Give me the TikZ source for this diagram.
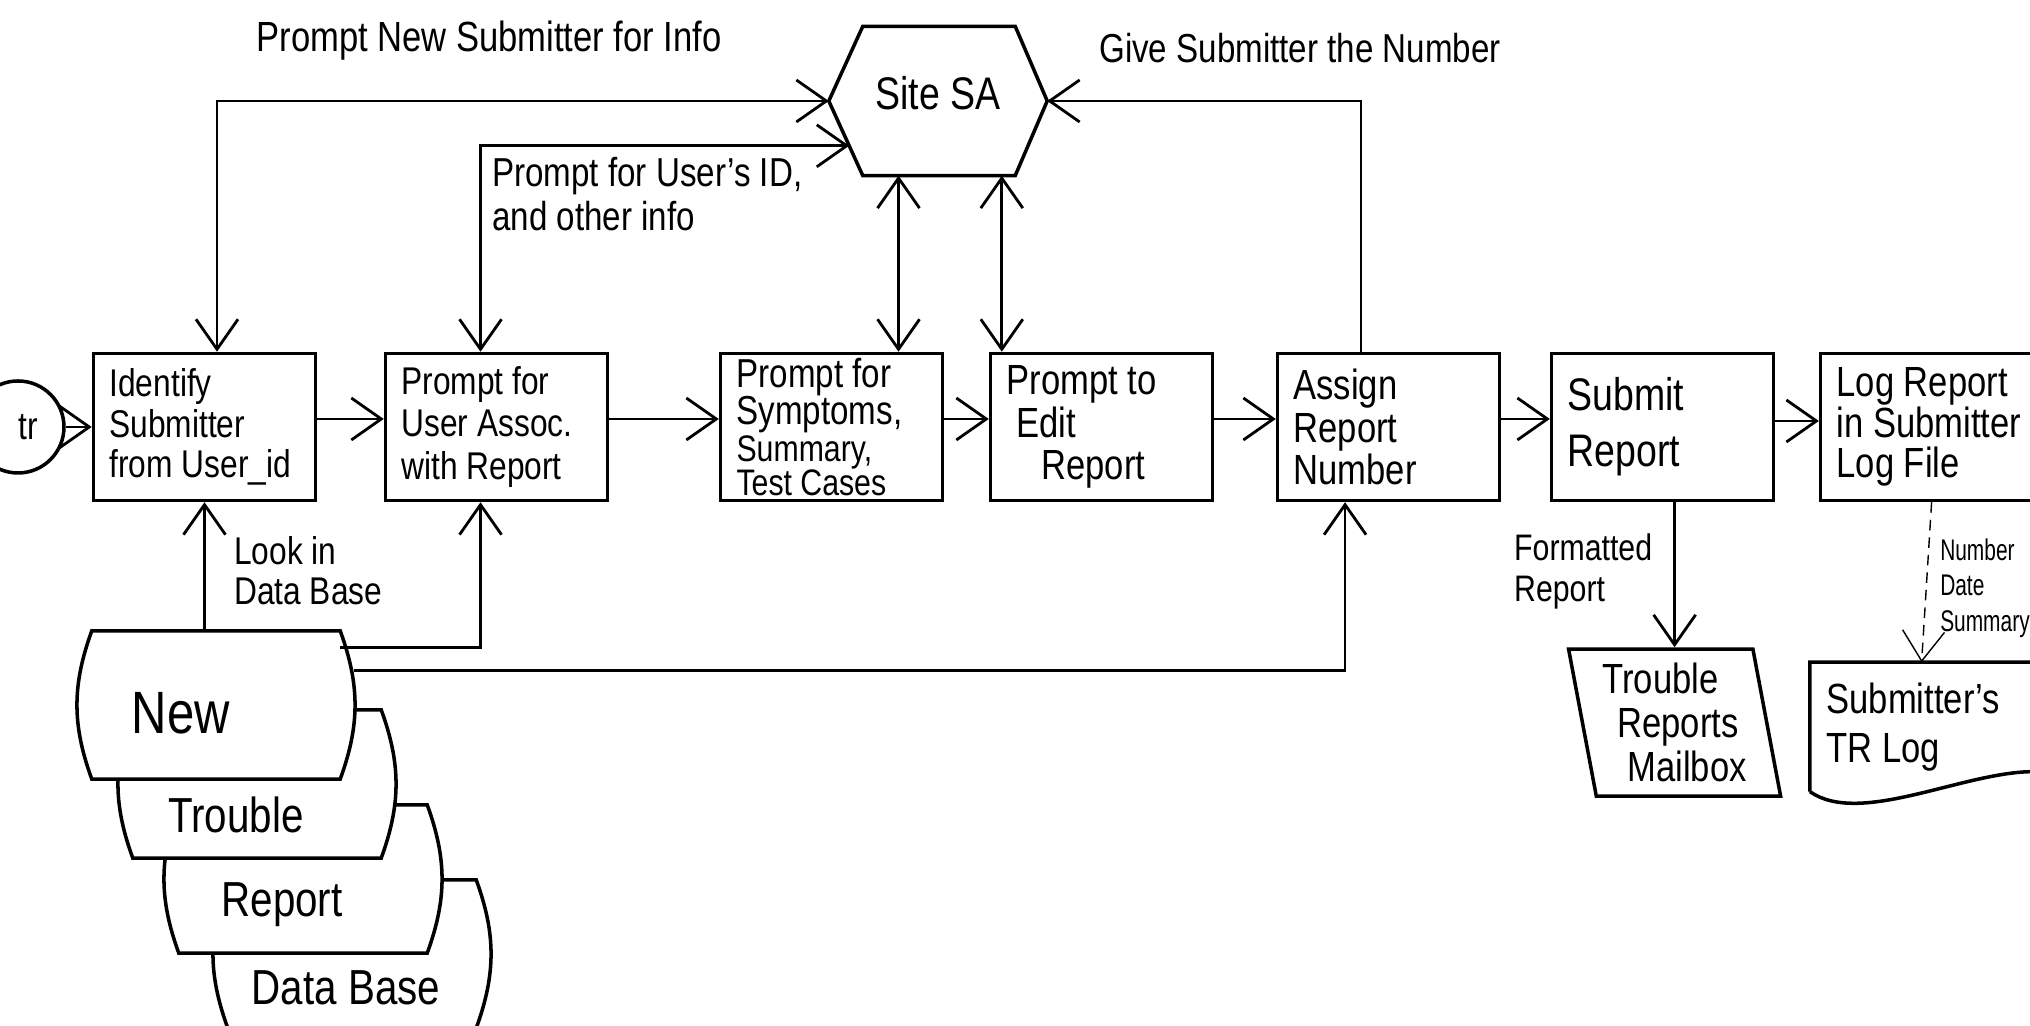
\documentclass[tikz,border=0pt]{standalone}
\usepackage{fontspec}
\setmainfont{Liberation Sans}[FakeStretch=0.82]
\newfontfamily\slimfont{Liberation Sans}[FakeStretch=0.7]
\usetikzlibrary{arrows.meta,positioning,calc,shapes.geometric}

\begin{document}
\begin{tikzpicture}[
  font=\fontsize{11}{11.5}\selectfont,
  >={Straight Barb[length=3mm,width=4.2mm]},
  procbox/.style={draw,line width=1pt,align=flush left,text width=1.9cm,minimum width=2.22cm,minimum height=1.47cm,inner sep=2pt},
  hexa/.style={minimum width=2.17cm,minimum height=1.48cm,text depth=0.16cm,font=\fontsize{13}{15}\selectfont},
  hexline/.style={draw,line width=1pt},
  mailshape/.style={draw,line width=1pt,trapezium,trapezium left angle=102,trapezium right angle=78,trapezium stretches=true,minimum width=2.13cm,minimum height=1.47cm,inner sep=1pt,align=left,font=\fontsize{12}{12.5}\selectfont},
  logdoc/.style={minimum width=2.22cm,minimum height=1.28cm,text width=1.9cm,align=flush left,font=\fontsize{12}{14}\selectfont},
  dbpage/.style={minimum width=2.47cm,minimum height=1.47cm,inner sep=0pt},
  dbedge/.style={draw,line width=1pt,fill=white},
  dbtext/.style={font=\fontsize{14}{14}\selectfont},
  startc/.style={draw,line width=1pt,circle,minimum size=0.92cm,inner sep=0pt},
  lbl/.style={align=left,inner sep=1pt},
  link/.style={->,line width=0.8pt},
  node distance=0.6cm
]
\useasboundingbox (0,0) rectangle (20.30,10.26);
\clip (0,0) rectangle (20.30,10.26);

% main row
\node[procbox] (ident) at (2.045,5.99) {Identify\\Submitter\\from User\_id};
\node[startc,left=0.26cm of ident] (start) {\hspace*{0.2cm}tr};
\node[procbox,right=0.665cm of ident,font=\fontsize{11}{12}\selectfont] (assoc) {Prompt for\\User Assoc.\\with Report};
\node[procbox,right=1.095cm of assoc,inner ysep=0pt,font=\fontsize{11.5}{10.5}\selectfont] (sympt) {Prompt for\\Symptoms,\\{\fontsize{10.5}{9}\selectfont Summary,}\\[-1pt]{\fontsize{10.5}{9}\selectfont Test Cases}};
\node[procbox,right=0.445cm of sympt,font=\fontsize{12}{12}\selectfont] (edit) {Prompt to\\\hspace*{1mm}Edit\\\hspace*{3.5mm}Report};
\node[procbox,right=0.615cm of edit,font=\fontsize{12}{12}\selectfont] (assign) {Assign\\Report\\Number};
\node[procbox,right=0.485cm of assign,font=\fontsize{13}{16}\selectfont] (submit) {Submit\\Report};
\node[procbox,right=0.435cm of submit,font=\fontsize{12}{11.5}\selectfont] (logrep) {Log Report\\in Submitter\\Log File};

% site SA
\node[hexa] (sa) at (9.38,9.25) {Site SA};
\draw[hexline] (sa.west) -- ([xshift=3.4mm]sa.north west) -- ([xshift=-3.2mm]sa.north east) -- (sa.east)
  -- ([xshift=-3.2mm]sa.south east) -- ([xshift=3.4mm]sa.south west) -- cycle;
\coordinate (saedge) at ($(sa.west)!0.6!([xshift=3.4mm]sa.south west)$);

\node[mailshape,below=1.45cm of submit,xshift=1.2mm] (mailbox) {Trouble\\\hspace*{1.5mm}Reports\\\hspace*{2.5mm}Mailbox};
\node[logdoc,below=1.6cm of logrep,xshift=-1mm] (trlog) {Submitter's\\TR Log};
\draw[line width=1pt] (trlog.south west) -- (trlog.north west) -- (trlog.north east) -- ([yshift=2mm]trlog.south east)
  .. controls +(-0.7,0) and +(0.5,-0.35) .. (trlog.south west);

% data base stack, back to front
\node[dbpage] (base) at (3.52,0.72) {};
\draw[dbedge] (base.north west) to[bend right=20] (base.south west) -- (base.south east) to[bend right=20] (base.north east) -- cycle;
\node[dbtext] (txtbase) at ([shift={(-0.06,-0.34)}]base.center) {Data Base};
\node[dbpage] (report) at (3.03,1.47) {};
\draw[dbedge] (report.north west) to[bend right=20] (report.south west) -- (report.south east) to[bend right=20] (report.north east) -- cycle;
\node[dbtext] (txtreport) at ([shift={(-0.21,-0.26)}]report.center) {Report};
\node[dbpage] (trouble) at (2.57,2.42) {};
\draw[dbedge] (trouble.north west) to[bend right=20] (trouble.south west) -- (trouble.south east) to[bend right=20] (trouble.north east) -- cycle;
\node[dbtext] (txttrouble) at ([shift={(-0.21,-0.31)}]trouble.center) {Trouble};
\node[dbpage] (new) at (2.16,3.21) {};
\draw[dbedge] (new.north west) to[bend right=20] (new.south west) -- (new.south east) to[bend right=20] (new.north east) -- cycle;
\node[dbtext,font=\fontsize{17}{17}\selectfont] (txtnew) at ([shift={(-0.35,-0.08)}]new.center) {New};

% labels
\node[lbl,font=\fontsize{12}{14}\selectfont] (newlbl) at (4.89,9.85) {Prompt New Submitter for Info};
\node[lbl,font=\fontsize{11.5}{14}\selectfont] (givelbl) at (13.00,9.78) {Give Submitter the Number};
\node[lbl,anchor=north west,font=\fontsize{11.5}{12.5}\selectfont] (idlbl) at (4.88,8.73) {Prompt for User's ID,\\and other info};
\node[lbl,anchor=north west] (looklbl) at (2.30,4.94) {Look in\\Data Base};
\node[lbl,anchor=north west,font=\fontsize{10.5}{11.5}\selectfont] (fmtlbl) at (15.10,4.96) {Formatted\\Report};
\node[lbl,anchor=north west,font=\slimfont\fontsize{8.5}{10}\selectfont] (numlbl) at (19.36,4.91) {Number\\Date\\Summary};

\coordinate (symptop) at ([xshift=6.7mm]sympt.north);
\coordinate (edittop) at ([xshift=1.3mm]edit.north west);

\draw[link] (start) -- (ident);
\draw[link] ([yshift=0.8mm]ident.east) -- ([yshift=0.8mm]assoc.west);
\draw[link] ([yshift=0.8mm]assoc.east) -- ([yshift=0.8mm]sympt.west);
\draw[link] ([yshift=0.8mm]sympt.east) -- ([yshift=0.8mm]edit.west);
\draw[link] ([yshift=0.8mm]edit.east) -- ([yshift=0.8mm]assign.west);
\draw[link] ([yshift=0.8mm]assign.east) -- ([yshift=0.8mm]submit.west);
\draw[link] ([yshift=0.6mm]submit.east) -- ([yshift=0.6mm]logrep.west);

\draw[link,<->] ([xshift=1.25mm]ident.north) |- (sa.west);
\draw[link,<->] ([xshift=-1.6mm]assoc.north) |- (saedge);
\draw[link,<->] (symptop) -- (symptop |- sa.south);
\draw[link,<->] (edittop) -- (edittop |- sa.south);
\draw[link] ([xshift=-2.75mm]assign.north) |- (sa.east);

\draw[link] (ident.south |- new.north) -- (ident.south);
\draw[link] ([yshift=-1.7mm]new.north east) -| ([xshift=-1.6mm]assoc.south);
\draw[link] ([xshift=1.4mm,yshift=-4mm]new.north east) -| ([xshift=-4.35mm]assign.south);

\draw[link] (mailbox.north |- submit.south) -- (mailbox.north);
\draw[link,thin,densely dashed] (logrep.south) -- (trlog.north);
\end{tikzpicture}
\end{document}
